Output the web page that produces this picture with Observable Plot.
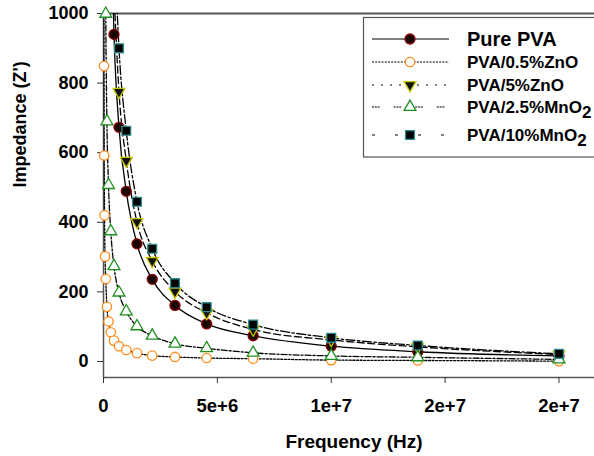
<!DOCTYPE html>
<html>
<head>
<meta charset="utf-8">
<script src="https://cdn.jsdelivr.net/npm/d3@7"></script>
<script src="https://cdn.jsdelivr.net/npm/@observablehq/plot@0.6"></script>
<style>
  html, body { margin: 0; padding: 0; background: #fff; }
  #wrap { position: relative; width: 594px; height: 456px; overflow: hidden; }
  #legend { position: absolute; left: 0; top: 0; }
</style>
</head>
<body>
<div id="wrap"><div id="chart"></div><div id="legend"></div></div>
<script>
// ---------- data ----------
const freq = [1.5e4, 2.2e4, 3.2e4, 4.6e4, 6.8e4, 1e5, 1.5e5, 2.2e5, 3.2e5, 4.6e5, 6.8e5, 1e6, 1.47e6, 2.14e6, 3.14e6, 4.53e6, 6.57e6, 1e7, 1.38e7, 2e7];
const seriesNames = ["Pure PVA", "PVA/0.5%ZnO", "PVA/5%ZnO", "PVA/2.5%MnO2", "PVA/10%MnO2"];
const purePVA = [null, null, null, null, null, null, null, null, 1320, 940, 673, 489, 338, 236, 161, 108, 74, 44, 28, 16];
const zno05   = [1200, 849, 592, 420, 302, 237, 157, 115, 84, 60, 44, 33, 24, 17, 13, 10, 8, 4, 3, 1];
const zno5    = [null, null, null, null, null, null, null, null, null, 1060, 775, 577, 401, 289, 201, 140, 92, 62, 42, 20];
const mno25   = [null, null, null, null, 1450, 999, 690, 507, 374, 274, 198, 144, 101, 74, 51, 38, 25, 16, 12, 6];
const mno10   = [null, null, null, null, null, null, null, null, null, 1230, 900, 663, 459, 324, 225, 156, 106, 68, 46, 22];
const seriesValues = [purePVA, zno05, zno5, mno25, mno10];

const xTicks = [0, 5e6, 1e7, 1.5e7, 2e7];
const xTickLabels = ["0", "5e+6", "1e+7", "2e+7", "2e+7"];
const yTicks = [0, 200, 400, 600, 800, 1000];
const yTickLabels = ["0", "200", "400", "600", "800", "1000"];
const xDomain = [0, 2.156e7];
const yDomain = [-46, 1000];

// ---------- styles ----------
const triangleDown = {
  draw(context, size) {
    const a = Math.sqrt(size * 4 / Math.sqrt(3));
    const h = a * Math.sqrt(3) / 2;
    context.moveTo(-a / 2, -h / 3);
    context.lineTo(a / 2, -h / 3);
    context.lineTo(0, 2 * h / 3);
    context.closePath();
  }
};
const styles = [
  {dash: null, symbol: "circle", r: 5, fill: "#1a0505", stroke: "#8b0000", legendDash: null},
  {dash: "2,1.6", symbol: "circle", r: 4.7, fill: "#fff", stroke: "#ff8c1a", legendDash: "2,1.2"},
  {dash: "7,3.5", symbol: triangleDown, r: 4.4, fill: "#111", stroke: "#c8c800", legendDash: "2,7"},
  {dash: "6,2,2,2", symbol: "triangle", r: 4.4, fill: "#fff", stroke: "#1f8f1f", legendDash: "2,0.8,2,0.8,2,14"},
  {dash: "9,2.5,2.5,2.5", symbol: "square", r: 5, fill: "#000", stroke: "#2a8c8c", legendDash: "3,20"}
];

const rows = [];
seriesNames.forEach((s, i) => {
  seriesValues[i].forEach((v, j) => {
    if (v != null) rows.push({series: s, idx: i, f: freq[j], z: v});
  });
});

const font = "'Liberation Sans', Arial, sans-serif";

const marks = [
  Plot.ruleY([yDomain[1]], {stroke: "#555", strokeWidth: 2}),
  Plot.ruleY([yDomain[0]], {stroke: "#555", strokeWidth: 1.5}),
  Plot.ruleX([xDomain[0]], {stroke: "#555", strokeWidth: 1.5}),
  Plot.axisY({ticks: yTicks, tickFormat: (d, i) => yTickLabels[i], tickSize: 6, tickPadding: 9, label: null, fontSize: 18, fontWeight: "bold", stroke: "#333"}),
  Plot.axisX({ticks: xTicks, tickFormat: (d, i) => xTickLabels[i], tickSize: 6, tickPadding: 15, label: null, fontSize: 18.5, fontWeight: "bold", stroke: "#333"}),
  Plot.text(["Frequency (Hz)"], {frameAnchor: "bottom", dx: 5, dy: 70, fontSize: 19, fontWeight: "bold", fill: "#000"}),
  Plot.text(["Impedance (Z')"], {frameAnchor: "left", rotate: -90, dx: -83, dy: -8, fontSize: 18, fontWeight: "bold", fill: "#000"})
];
seriesNames.forEach((s, i) => {
  const st = styles[i];
  const data = rows.filter(d => d.idx === i);
  marks.push(Plot.line(data, {x: "f", y: "z", curve: "monotone-x", stroke: "#000", strokeWidth: 1.3, strokeDasharray: st.dash, clip: true}));
});
seriesNames.forEach((s, i) => {
  const st = styles[i];
  const data = rows.filter(d => d.idx === i && d.z <= yDomain[1]);
  marks.push(Plot.dot(data, {x: "f", y: "z", symbol: st.symbol, r: st.r, fill: st.fill, stroke: st.stroke, strokeWidth: 1.3}));
});

const chart = Plot.plot({
  width: 594,
  height: 456,
  marginLeft: 103,
  marginRight: 0,
  marginTop: 13,
  marginBottom: 79,
  x: {domain: xDomain},
  y: {domain: yDomain},
  style: {fontFamily: font, color: "#000", background: "#fff", overflow: "visible"},
  marks
});
document.getElementById("chart").appendChild(chart);

// ---------- legend (overlay) ----------
const lsvg = d3.select("#legend").append("svg").attr("width", 594).attr("height", 170)
  .style("font-family", font).style("font-weight", "bold");
lsvg.append("rect").attr("x", 363.5).attr("y", 17.5).attr("width", 240).attr("height", 139.5)
  .attr("fill", "#fff").attr("stroke", "#555").attr("stroke-width", 1.2);
const rowY = [39, 62, 85, 107, 135];
seriesNames.forEach((s, i) => {
  const st = styles[i];
  const y = rowY[i];
  lsvg.append("line").attr("x1", 372).attr("x2", 449).attr("y1", y).attr("y2", y)
    .attr("stroke", "#000").attr("stroke-width", 1.2).attr("stroke-dasharray", st.legendDash);
  const sym = typeof st.symbol === "string"
    ? ({circle: d3.symbolCircle, triangle: d3.symbolTriangle, square: d3.symbolSquare})[st.symbol]
    : st.symbol;
  lsvg.append("path").attr("transform", `translate(410,${y})`)
    .attr("d", d3.symbol(sym, Math.PI * st.r * st.r)())
    .attr("fill", st.fill).attr("stroke", st.stroke).attr("stroke-width", 1.3);
  const t = lsvg.append("text").attr("x", 467).attr("y", y).attr("dy", "0.36em")
    .attr("font-size", i === 0 ? 20 : 17).attr("fill", "#000");
  const m = s.match(/^(.*MnO)2$/);
  if (m) {
    t.append("tspan").text(m[1]);
    t.append("tspan").attr("dy", "0.3em").attr("font-size", 17).text("2");
  } else {
    t.text(s);
  }
});
</script>
</body>
</html>
